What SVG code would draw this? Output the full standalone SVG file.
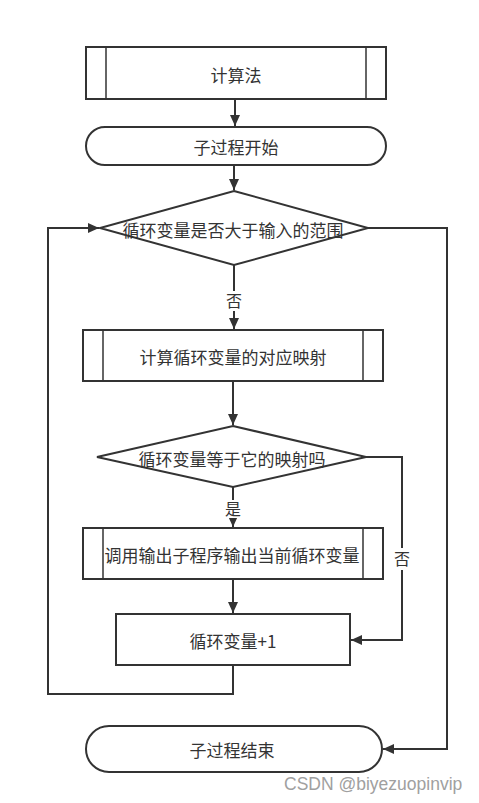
<svg xmlns="http://www.w3.org/2000/svg" width="479" height="803" viewBox="0 0 479 803">
<style>
.shape{fill:#fff;stroke:#333;stroke-width:2}
.inner{fill:none;stroke:#333;stroke-width:1.5}
.edge{fill:none;stroke:#333;stroke-width:2}
.t{font-family:"Noto Sans CJK SC","Noto Sans",sans-serif;font-size:17px;fill:#333;text-anchor:middle;dominant-baseline:central}
.lbl{font-family:"Noto Sans CJK SC","Noto Sans",sans-serif;font-size:16px;fill:#333;text-anchor:middle;dominant-baseline:central}
.wm{font-family:"Liberation Sans","DejaVu Sans",sans-serif;font-size:17.5px;fill:#a0a0a0}
</style>
<defs>
<marker id="arr" markerUnits="userSpaceOnUse" markerWidth="12" markerHeight="10" refX="11" refY="5" orient="auto">
<path d="M0,0 L11,5 L0,10 z" fill="#333"/>
</marker>
</defs>
<rect width="479" height="803" fill="#fff"/>
<g id="connectors">
<line class="edge" x1="235" y1="99" x2="235" y2="126" marker-end="url(#arr)"/>
<line class="edge" x1="234" y1="165" x2="234" y2="190" marker-end="url(#arr)"/>
<line class="edge" x1="234" y1="265" x2="234" y2="329" marker-end="url(#arr)"/>
<line class="edge" x1="233" y1="381" x2="233" y2="425" marker-end="url(#arr)"/>
<line class="edge" x1="233" y1="487" x2="233" y2="527" marker-end="url(#arr)"/>
<line class="edge" x1="233" y1="579" x2="233" y2="613" marker-end="url(#arr)"/>
<polyline class="edge" points="366,457 402,457 402,640 351,640" marker-end="url(#arr)"/>
<polyline class="edge" points="233,665 233,694 48,694 48,228 99,228" marker-end="url(#arr)"/>
<polyline class="edge" points="368,228 447,228 447,749 383,749" marker-end="url(#arr)"/>
<rect x="224" y="291" width="20" height="20" fill="#fff"/>
<text class="lbl" x="234" y="300">否</text>
<rect x="223" y="500" width="20" height="18" fill="#fff"/>
<text class="lbl" x="233" y="508">是</text>
<rect x="392" y="548" width="20" height="22" fill="#fff"/>
<text class="lbl" x="402" y="558">否</text>
</g>
<g id="n1">
<rect class="shape" x="86" y="47" width="300" height="52"/>
<line class="inner" x1="106" y1="47" x2="106" y2="99"/>
<line class="inner" x1="366" y1="47" x2="366" y2="99"/>
<text class="t" x="236" y="74">计算法</text>
</g>
<g id="n2">
<rect class="shape" x="86" y="127" width="300" height="38" rx="19" ry="19"/>
<text class="t" x="236" y="146">子过程开始</text>
</g>
<g id="n3">
<polygon class="shape" points="234,191 368,228 234,265 100,228"/>
<text class="t" x="233" y="229">循环变量是否大于输入的范围</text>
</g>
<g id="n4">
<rect class="shape" x="83" y="330" width="300" height="51"/>
<line class="inner" x1="103" y1="330" x2="103" y2="381"/>
<line class="inner" x1="363" y1="330" x2="363" y2="381"/>
<text class="t" x="233" y="356">计算循环变量的对应映射</text>
</g>
<g id="n5">
<polygon class="shape" points="233,426 366,457 233,487 97,457"/>
<text class="t" x="232" y="458">循环变量等于它的映射吗</text>
</g>
<g id="n6">
<rect class="shape" x="83" y="528" width="300" height="51"/>
<line class="inner" x1="103" y1="528" x2="103" y2="579"/>
<line class="inner" x1="363" y1="528" x2="363" y2="579"/>
<text class="t" x="232" y="554">调用输出子程序输出当前循环变量</text>
</g>
<g id="n7">
<rect class="shape" x="116" y="614" width="234" height="51"/>
<text class="t" x="233" y="640">循环变量+1</text>
</g>
<g id="n8">
<rect class="shape" x="86" y="726" width="296" height="46" rx="23" ry="23"/>
<text class="t" x="232" y="749">子过程结束</text>
</g>
<text class="wm" x="284" y="790">CSDN @biyezuopinvip</text>
</svg>
